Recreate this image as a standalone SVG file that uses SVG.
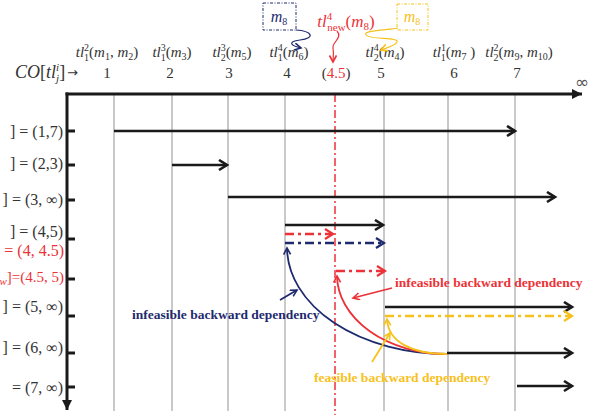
<svg xmlns="http://www.w3.org/2000/svg" width="611" height="420" viewBox="0 0 611 420">
<style>
.m{font-family:"Liberation Serif","DejaVu Serif",serif;font-size:15px;fill:#333}
.i{font-style:italic}
.s{font-size:10px}
.lab{font-family:"Liberation Serif","DejaVu Serif",serif;font-size:16px;fill:#333}
.red{fill:#ec3238}
.grid{stroke:#a6a6a6;stroke-width:1.2;fill:none}
.blk{stroke:#1a1a1a;stroke-width:2.6;fill:none}
.dd{stroke-width:2.6;fill:none;stroke-dasharray:9 4 3 4}
.ann{font-family:"Liberation Serif","DejaVu Serif",serif;font-size:13.5px;font-weight:bold}
</style>
<defs>
<marker id="tri" markerUnits="userSpaceOnUse" markerWidth="12" markerHeight="12" refX="10" refY="5" orient="auto"><path d="M0,0 L10,5 L0,10 z" fill="#1a1a1a"/></marker>
<marker id="hk" markerUnits="userSpaceOnUse" markerWidth="14" markerHeight="14" refX="9" refY="6" orient="auto"><path d="M1,1 L9,6 L1,11" fill="none" stroke="#1a1a1a" stroke-width="2.6"/></marker>
<marker id="hr" markerUnits="userSpaceOnUse" markerWidth="14" markerHeight="14" refX="9" refY="6" orient="auto"><path d="M1,1 L9,6 L1,11" fill="none" stroke="#ec3238" stroke-width="2.2"/></marker>
<marker id="hn" markerUnits="userSpaceOnUse" markerWidth="14" markerHeight="14" refX="9" refY="6" orient="auto"><path d="M1,1 L9,6 L1,11" fill="none" stroke="#1e2a6e" stroke-width="2.2"/></marker>
<marker id="hy" markerUnits="userSpaceOnUse" markerWidth="14" markerHeight="14" refX="9" refY="6" orient="auto"><path d="M1,1 L9,6 L1,11" fill="none" stroke="#f7c11c" stroke-width="2.2"/></marker>
<marker id="sr" markerUnits="userSpaceOnUse" markerWidth="10" markerHeight="10" refX="7" refY="4" orient="auto"><path d="M0.5,0.5 L7,4 L0.5,7.5" fill="none" stroke="#ec3238" stroke-width="1.6"/></marker>
<marker id="sn" markerUnits="userSpaceOnUse" markerWidth="10" markerHeight="10" refX="7" refY="4" orient="auto"><path d="M0.5,0.5 L7,4 L0.5,7.5" fill="none" stroke="#1e2a6e" stroke-width="1.6"/></marker>
<marker id="sy" markerUnits="userSpaceOnUse" markerWidth="10" markerHeight="10" refX="7" refY="4" orient="auto"><path d="M0.5,0.5 L7,4 L0.5,7.5" fill="none" stroke="#f7c11c" stroke-width="1.6"/></marker>
</defs>

<!-- top labels -->
<g id="header">
<text class="m" x="15" y="78" style="font-size:18px"><tspan class="i">CO</tspan><tspan>[</tspan><tspan class="i">tl</tspan><tspan class="s i" style="font-size:11px" dy="-7">i</tspan><tspan class="s i" style="font-size:11px" dx="-3" dy="11">j</tspan><tspan dy="-4">]</tspan></text>
<text x="67" y="77" style="font-family:'DejaVu Sans',sans-serif;font-size:13px;fill:#333">→</text>
<text class="m" x="107" y="57" text-anchor="middle"><tspan class="i">tl</tspan><tspan class="s" dy="-6">2</tspan><tspan class="s" dx="-5" dy="10">1</tspan><tspan dy="-4">(</tspan><tspan class="i">m</tspan><tspan class="s" dy="3">1</tspan><tspan dy="-3">, </tspan><tspan class="i">m</tspan><tspan class="s" dy="3">2</tspan><tspan dy="-3">)</tspan></text>
<text class="m" x="172" y="57" text-anchor="middle"><tspan class="i">tl</tspan><tspan class="s" dy="-6">3</tspan><tspan class="s" dx="-5" dy="10">1</tspan><tspan dy="-4">(</tspan><tspan class="i">m</tspan><tspan class="s" dy="3">3</tspan><tspan dy="-3">)</tspan></text>
<text class="m" x="232" y="57" text-anchor="middle"><tspan class="i">tl</tspan><tspan class="s" dy="-6">3</tspan><tspan class="s" dx="-5" dy="10">2</tspan><tspan dy="-4">(</tspan><tspan class="i">m</tspan><tspan class="s" dy="3">5</tspan><tspan dy="-3">)</tspan></text>
<text class="m" x="289" y="57" text-anchor="middle"><tspan class="i">tl</tspan><tspan class="s" dy="-6">4</tspan><tspan class="s" dx="-5" dy="10">1</tspan><tspan dy="-4">(</tspan><tspan class="i">m</tspan><tspan class="s" dy="3">6</tspan><tspan dy="-3">)</tspan></text>
<text class="m" x="385" y="57" text-anchor="middle"><tspan class="i">tl</tspan><tspan class="s" dy="-6">4</tspan><tspan class="s" dx="-5" dy="10">2</tspan><tspan dy="-4">(</tspan><tspan class="i">m</tspan><tspan class="s" dy="3">4</tspan><tspan dy="-3">)</tspan></text>
<text class="m" x="454" y="57" text-anchor="middle"><tspan class="i">tl</tspan><tspan class="s" dy="-6">1</tspan><tspan class="s" dx="-5" dy="10">1</tspan><tspan dy="-4">(</tspan><tspan class="i">m</tspan><tspan class="s" dy="3">7</tspan><tspan dy="-3"> )</tspan></text>
<text class="m" x="519" y="57" text-anchor="middle"><tspan class="i">tl</tspan><tspan class="s" dy="-6">2</tspan><tspan class="s" dx="-5" dy="10">2</tspan><tspan dy="-4">(</tspan><tspan class="i">m</tspan><tspan class="s" dy="3">9</tspan><tspan dy="-3">, </tspan><tspan class="i">m</tspan><tspan class="s" dy="3">10</tspan><tspan dy="-3">)</tspan></text>
<text class="m" x="107" y="78" text-anchor="middle">1</text>
<text class="m" x="170" y="78" text-anchor="middle">2</text>
<text class="m" x="229" y="78" text-anchor="middle">3</text>
<text class="m" x="287" y="78" text-anchor="middle">4</text>
<text class="m" x="336" y="78" text-anchor="middle">(<tspan class="red">4.5</tspan>)</text>
<text class="m" x="381" y="78" text-anchor="middle">5</text>
<text class="m" x="454" y="78" text-anchor="middle">6</text>
<text class="m" x="517" y="78" text-anchor="middle">7</text>
<text x="582" y="88" text-anchor="middle" style="font-family:'DejaVu Sans',sans-serif;font-size:17px;fill:#555">∞</text>
</g>

<g id="m8-navy">
<rect x="263" y="3" width="33" height="27" fill="none" stroke="#1e2a6e" stroke-width="1" stroke-dasharray="3 1.5 1 1.5"/>
<text class="m" x="279" y="22" text-anchor="middle" style="fill:#1e2a6e;font-size:16px"><tspan class="i">m</tspan><tspan class="s" dy="3">8</tspan></text>
</g>
<g id="m8-new">
<text class="m" x="346" y="27" text-anchor="middle" style="fill:#ec3238;font-size:17px"><tspan class="i">tl</tspan><tspan class="s" style="font-size:11px" dy="-7">4</tspan><tspan class="s" style="font-size:11px" dx="-5" dy="11">new</tspan><tspan dy="-4">(</tspan><tspan class="i">m</tspan><tspan class="s" style="font-size:11px" dy="3">8</tspan><tspan dy="-3">)</tspan></text>
</g>
<g id="m8-yellow">
<rect x="397" y="4" width="31" height="26" fill="none" stroke="#f7c11c" stroke-width="1" stroke-dasharray="3 1.5 1 1.5"/>
<text class="m" x="412" y="22" text-anchor="middle" style="fill:#f7c11c;font-size:16px"><tspan class="i">m</tspan><tspan class="s" dy="3">8</tspan></text>
</g>

<!-- axes and grid -->
<g id="grid">
<path class="grid" d="M114,94V411 M172,94V411 M228,94V411 M285,94V411 M384,94V411 M448,94V411 M515,94V411"/>
<line x1="335" y1="94" x2="335" y2="415" stroke="#ec3238" stroke-width="1.5" stroke-dasharray="8 3 2 3"/>
<line x1="65.5" y1="94" x2="582" y2="94" stroke="#1a1a1a" stroke-width="3" marker-end="url(#tri)"/>
<line x1="67" y1="92.5" x2="67" y2="410" stroke="#1a1a1a" stroke-width="3" marker-end="url(#tri)"/>
<path d="M67,131H75 M67,165H75 M67,200H75 M67,239H75 M67,279H75 M67,316H75 M67,353H75 M67,387H75" stroke="#1a1a1a" stroke-width="3"/>
</g>

<g id="row-labels">
<text class="lab" x="63" y="137" text-anchor="end">] = (1,7)</text>
<text class="lab" x="63" y="169" text-anchor="end">] = (2,3)</text>
<text class="lab" x="63" y="205" text-anchor="end">] = (3, ∞)</text>
<text class="lab" x="63" y="237" text-anchor="end">] = (4,5)</text>
<text class="lab red" x="64" y="256" text-anchor="end">= (4, 4.5)</text>
<text class="lab red" x="64" y="282" text-anchor="end" style="font-size:15px"><tspan class="i" style="font-size:11px" dy="3">w</tspan><tspan dy="-3">]=(4.5, 5)</tspan></text>
<text class="lab" x="63" y="312" text-anchor="end">] = (5, ∞)</text>
<text class="lab" x="63" y="353" text-anchor="end">] = (6, ∞)</text>
<text class="lab" x="63" y="393" text-anchor="end">= (7, ∞)</text>
</g>

<!-- connectors -->
<g id="connectors">
<line class="blk" x1="114" y1="131" x2="515" y2="131" marker-end="url(#hk)"/>
<line class="blk" x1="172" y1="165" x2="227" y2="165" marker-end="url(#hk)"/>
<line class="blk" x1="228" y1="197" x2="555" y2="197" marker-end="url(#hk)"/>
<line class="blk" x1="285" y1="225" x2="383" y2="225" marker-end="url(#hk)"/>
<line class="dd" stroke="#ec3238" x1="285" y1="234" x2="333" y2="234" marker-end="url(#hr)"/>
<line class="dd" stroke="#1e2a6e" x1="285" y1="243" x2="384" y2="243" marker-end="url(#hn)"/>
<line class="dd" stroke="#ec3238" x1="336" y1="271" x2="385" y2="271" marker-end="url(#hr)"/>
<line class="blk" x1="385" y1="307" x2="572" y2="307" marker-end="url(#hk)"/>
<line class="dd" stroke="#f7c11c" x1="385" y1="316" x2="572" y2="316" marker-end="url(#hy)"/>
<line class="blk" x1="447" y1="353" x2="572" y2="353" marker-end="url(#hk)"/>
<line class="blk" x1="517" y1="386" x2="572" y2="386" marker-end="url(#hk)"/>

<path d="M447,354 A160,107 0 0 1 287,248" fill="none" stroke="#1e2a6e" stroke-width="1.8" marker-end="url(#sn)"/>
<path d="M447,354 A110,79 0 0 1 337,276" fill="none" stroke="#ec3238" stroke-width="1.8" marker-end="url(#sr)"/>
<path d="M447,354 C412,354 388,342 387,319" fill="none" stroke="#f7c11c" stroke-width="1.8" marker-end="url(#sy)"/>

<line x1="280" y1="300" x2="297" y2="290" stroke="#1e2a6e" stroke-width="1.8" marker-end="url(#sn)"/>
<line x1="392" y1="288" x2="353" y2="298" stroke="#ec3238" stroke-width="1.8" marker-end="url(#sr)"/>
<line x1="372" y1="362" x2="390" y2="333" stroke="#f7c11c" stroke-width="1.8" marker-end="url(#sy)"/>

<path d="M296,30 C312,31 316,38 300,40 C286,42 292,46 301,48" fill="none" stroke="#1e2a6e" stroke-width="1.2" marker-end="url(#sn)"/>
<path d="M337,31 C343,38 332,42 333,48 C334,54 333,58 333,62" fill="none" stroke="#ec3238" stroke-width="1.2" marker-end="url(#sr)"/>
<path d="M398,28 C390,30 362,30 366,35 C370,40 400,37 397,42 C395,46 386,48 381,50" fill="none" stroke="#f7c11c" stroke-width="1.2" marker-end="url(#sy)"/>
</g>

<g id="annotations">
<text class="ann" x="132" y="319" fill="#1e2a6e">infeasible backward dependency</text>
<text class="ann" x="395" y="287" fill="#ec3238">infeasible backward dependency</text>
<text class="ann" x="314" y="382" fill="#f7c11c">feasible backward dependency</text>
</g>
</svg>
